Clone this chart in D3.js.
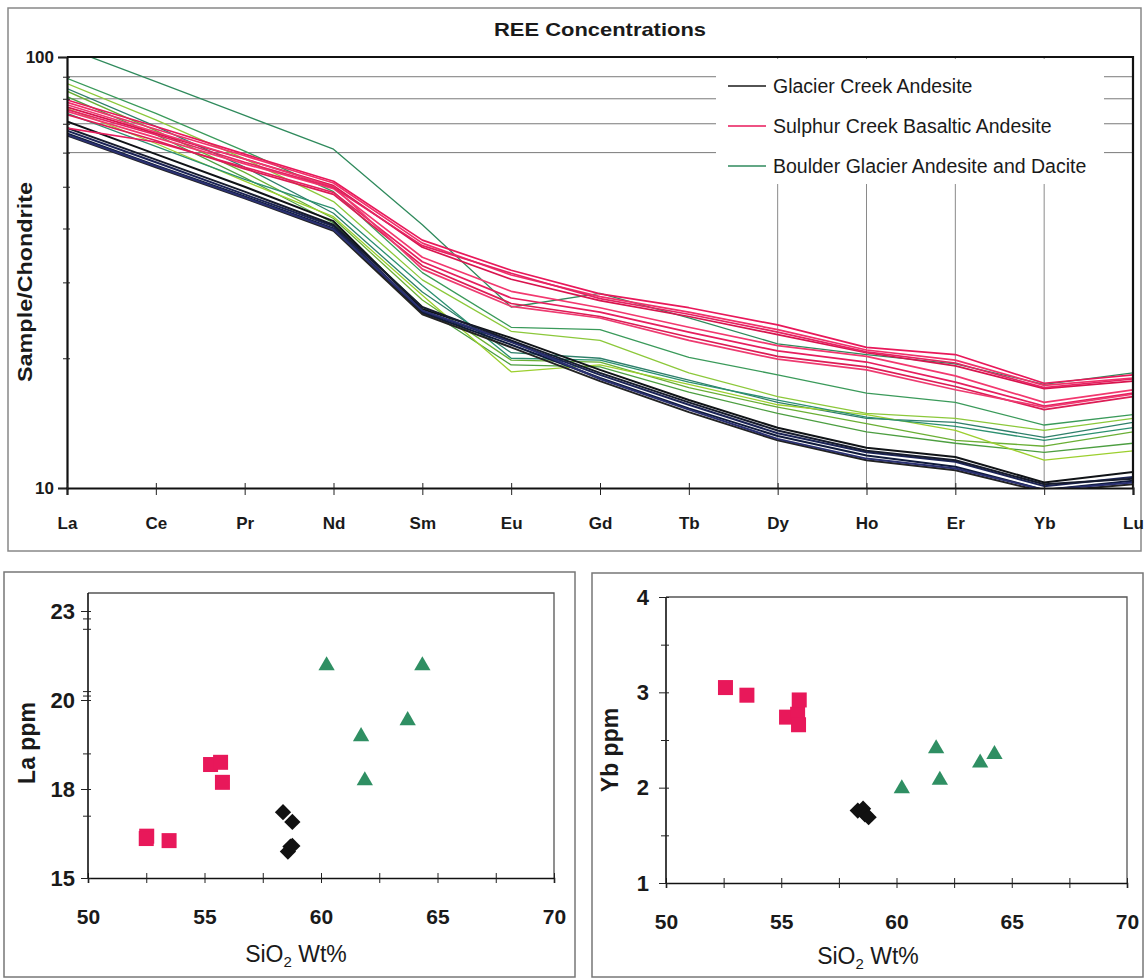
<!DOCTYPE html>
<html>
<head>
<meta charset="utf-8">
<script src="https://cdn.jsdelivr.net/npm/d3@7"></script>
<style>
  body { margin: 0; background: #fff; }
  svg text { font-family: Arial, "Liberation Sans", Helvetica, sans-serif; fill: #1a1a1a; }
</style>
</head>
<body>
<svg id="fig" width="1145" height="980"></svg>
<script>
// ---- REE spider diagram data (chondrite-normalised) ----
const elements = ["La","Ce","Pr","Nd","Sm","Eu","Gd","Tb","Dy","Ho","Er","Yb","Lu"];

const glacierCreek = [
  [70.9, 59.5, 50.0, 41.6, 26.0, 22.3, 18.8, 16.0, 13.8, 12.4, 11.8, 10.3, 10.9],
  [67.5, 57.0, 48.0, 40.5, 25.7, 21.8, 18.3, 15.6, 13.4, 12.1, 11.5, 10.1, 10.6],
  [66.5, 56.0, 47.5, 40.0, 25.5, 21.5, 18.0, 15.3, 13.2, 11.9, 11.2, 9.9, 10.4],
  [65.8, 55.5, 47.0, 39.5, 25.3, 21.2, 17.7, 15.0, 12.9, 11.6, 11.0, 9.8, 10.2],
  [66.0, 55.8, 47.2, 39.8, 25.8, 21.9, 17.9, 15.2, 13.0, 11.7, 11.1, 9.9, 10.3],
  [68.5, 57.8, 48.7, 40.8, 26.3, 22.0, 18.5, 15.8, 13.6, 12.2, 11.6, 10.2, 10.5]
];

const sulphurCreek = [
  [79.5, 69.0, 59.5, 51.5, 37.6, 32.0, 28.2, 26.2, 23.9, 21.2, 20.4, 17.5, 18.3],
  [78.5, 68.0, 59.0, 51.0, 37.0, 31.2, 27.8, 25.6, 23.3, 20.9, 19.8, 17.3, 18.0],
  [76.5, 66.5, 58.0, 50.3, 36.2, 30.5, 27.2, 25.0, 22.7, 20.6, 19.2, 17.0, 17.7],
  [74.8, 65.0, 56.5, 49.5, 34.3, 28.6, 26.2, 23.6, 21.4, 20.2, 18.2, 15.8, 16.9],
  [68.4, 63.5, 55.5, 48.5, 33.5, 27.6, 25.6, 23.0, 20.8, 19.6, 17.6, 15.5, 16.6],
  [73.5, 64.0, 55.0, 48.0, 32.8, 26.8, 25.0, 22.4, 20.2, 19.1, 17.2, 15.2, 16.3],
  [77.5, 67.0, 58.0, 50.0, 32.2, 26.4, 24.8, 22.0, 19.9, 18.8, 16.9, 15.4, 16.5],
  [75.5, 66.0, 57.0, 49.8, 36.5, 31.5, 27.5, 25.3, 23.0, 20.7, 19.5, 17.1, 17.9]
];

const boulderGlacier = [
  [104.8, 87.7, 73.2, 61.1, 40.8, 26.3, 28.3, 24.8, 21.6, 20.4, 19.4, 17.4, 18.5],
  [89.2, 74.0, 60.5, 48.7, 31.6, 23.6, 23.3, 20.1, 18.3, 16.6, 15.8, 14.0, 14.8],
  [86.8, 71.5, 58.0, 46.2, 30.4, 23.1, 22.0, 18.5, 16.3, 14.9, 14.5, 13.6, 14.5],
  [84.5, 69.0, 55.5, 43.4, 28.5, 20.6, 20.0, 17.8, 15.8, 14.5, 14.2, 13.1, 14.2],
  [83.3, 67.5, 54.0, 42.2, 27.3, 19.8, 19.6, 17.1, 15.4, 14.1, 12.9, 12.5, 13.5],
  [80.9, 66.0, 52.5, 41.2, 26.3, 19.3, 19.1, 16.7, 14.9, 13.5, 12.7, 12.1, 12.7],
  [76.0, 63.0, 51.5, 42.6, 28.0, 18.6, 19.3, 17.4, 15.6, 14.8, 13.6, 11.6, 12.2],
  [74.0, 62.0, 52.0, 44.5, 29.5, 20.0, 19.8, 17.6, 16.0, 14.6, 13.9, 12.9, 13.8]
];

const glacierColors = ["#101317", "#1b2356", "#0f1a3c", "#232323", "#2a3070", "#161b2e"];
const sulphurColors = ["#e8185a", "#f0306a", "#d8144e", "#f2386f", "#e61e5e", "#dc1c55", "#ee3a70", "#e42462"];
const boulderColors = ["#2f8a5c", "#3a9a5a", "#8cc83a", "#2e7f6a", "#6aaf34", "#4c9e40", "#9ccf2e", "#2c9070"];

const legendNames = ["Glacier Creek Andesite", "Sulphur Creek Basaltic Andesite", "Boulder Glacier Andesite and Dacite"];
const legendColors = ["#1a1a1a", "#e8185a", "#2f8a5c"];

const sampleTicks = [10, 20, 30, 40, 50, 60, 70, 80, 90, 100];
const gridValues = [60, 70, 80, 90];
const gridElements = ["Dy", "Ho", "Er", "Yb"];

// ---- La vs SiO2 ----
const laSulphurSiO2 = [52.52, 52.50, 53.48, 55.26, 55.69, 55.77];
const laSulphur     = [16.41, 16.33, 16.26, 18.55, 18.60, 18.15];
const laGlacierSiO2 = [58.37, 58.77, 58.69, 58.58, 58.77];
const laGlacier     = [17.22, 16.89, 16.06, 15.89, 16.08];
const laBoulderSiO2 = [60.24, 64.35, 63.72, 61.72, 61.88];
const laBoulder     = [21.16, 21.16, 19.54, 19.18, 18.19];
const laTicks = [15, 18, 20, 23];
const laMinorTicks = [17.1, 18.8, 20.15, 20.3, 22.4, 22.75];

// ---- Yb vs SiO2 ----
const ybSulphurSiO2 = [52.58, 53.51, 55.23, 55.71, 55.75, 55.78];
const ybSulphur     = [3.05, 2.97, 2.74, 2.77, 2.66, 2.92];
const ybGlacierSiO2 = [58.32, 58.55, 58.63, 58.79];
const ybGlacier     = [1.76, 1.78, 1.72, 1.69];
const ybBoulderSiO2 = [60.23, 61.72, 61.88, 63.63, 64.25];
const ybBoulder     = [1.99, 2.41, 2.08, 2.26, 2.35];
const ybTicks = [1, 2, 3, 4];
const ybMinorTicks = [1.5, 2.5, 3.5];

const silicaTicks = [50, 55, 60, 65, 70];
const silicaMinorTicks = [52.5, 57.5, 62.5, 67.5];

const pink = "#e8185a", green = "#2f8f63", black = "#111";

const svg = d3.select("#fig");

// ================= REE panel =================
svg.append("rect").attr("x", 8).attr("y", 8).attr("width", 1133).attr("height", 543)
  .attr("fill", "none").attr("stroke", "#888").attr("stroke-width", 1.5);

const P = { left: 67, right: 1133, top: 57, bottom: 488 };
const x = d3.scalePoint().domain(elements).range([P.left, P.right]);
const y = d3.scaleLog().domain([10, 100]).range([P.bottom, P.top]);

svg.append("text").attr("x", 600).attr("y", 36).attr("text-anchor", "middle")
  .attr("font-size", 19).attr("font-weight", "bold")
  .attr("textLength", 212).attr("lengthAdjust", "spacingAndGlyphs")
  .text("REE Concentrations");

// gridlines
svg.append("g").selectAll("line").data(gridValues).join("line")
  .attr("x1", P.left).attr("x2", P.right)
  .attr("y1", d => y(d)).attr("y2", d => y(d))
  .attr("stroke", "#7a7a7a").attr("stroke-width", 1);
svg.append("g").selectAll("line").data(gridElements).join("line")
  .attr("x1", d => x(d)).attr("x2", d => x(d))
  .attr("y1", P.top).attr("y2", P.bottom)
  .attr("stroke", "#8a8a8a").attr("stroke-width", 1);

// legend box (white, hides grid behind it)
const lg = svg.append("g");
lg.append("rect").attr("x", 716).attr("y", P.top + 2).attr("width", 388).attr("height", 125).attr("fill", "#fff");
legendNames.forEach((name, i) => {
  const ly = 86 + i * 40;
  lg.append("line").attr("x1", 728).attr("x2", 766).attr("y1", ly).attr("y2", ly)
    .attr("stroke", legendColors[i]).attr("stroke-width", 1.6);
  lg.append("text").attr("x", 773).attr("y", ly + 7).attr("font-size", 19.5).text(name);
});

// clip for series
svg.append("clipPath").attr("id", "reeClip").append("rect")
  .attr("x", P.left).attr("y", P.top).attr("width", P.right - P.left).attr("height", P.bottom - P.top);

const line = d3.line().x((d, i) => x(elements[i])).y(d => y(d));
const series = svg.append("g").attr("clip-path", "url(#reeClip)").attr("fill", "none")
  .attr("stroke-linejoin", "round");

series.append("g").selectAll("path").data(boulderGlacier).join("path")
  .attr("d", line).attr("stroke", (d, i) => boulderColors[i]).attr("stroke-width", 1.3);
series.append("g").selectAll("path").data(glacierCreek).join("path")
  .attr("d", line).attr("stroke", (d, i) => glacierColors[i]).attr("stroke-width", 2);
series.append("g").selectAll("path").data(sulphurCreek).join("path")
  .attr("d", line).attr("stroke", (d, i) => sulphurColors[i]).attr("stroke-width", 1.7);

// frame top/right
svg.append("path").attr("d", `M${P.left},${P.top}H${P.right}V${P.bottom}`)
  .attr("fill", "none").attr("stroke", "#111").attr("stroke-width", 2.2);

// y axis
const yAxisG = svg.append("g").attr("transform", `translate(${P.left},0)`)
  .call(d3.axisLeft(y).tickValues(sampleTicks).tickSize(9).tickPadding(4)
    .tickFormat(d => (d === 10 || d === 100) ? d : ""));
yAxisG.select(".domain").attr("stroke", "#111").attr("stroke-width", 2.2);
yAxisG.selectAll(".tick line").attr("stroke", "#222")
  .attr("x1", d => (d === 10 || d === 100) ? 0 : 3)
  .attr("x2", d => (d === 10 || d === 100) ? -9 : -4);
yAxisG.selectAll(".tick text").attr("font-size", 17).attr("font-weight", "bold").attr("fill", "#1a1a1a");

// x axis
const xAxisG = svg.append("g").attr("transform", `translate(0,${P.bottom})`)
  .call(d3.axisBottom(x).tickSize(7).tickPadding(22));
xAxisG.select(".domain").attr("stroke", "#111").attr("stroke-width", 2.2);
xAxisG.selectAll(".tick line").attr("y1", -5).attr("stroke", "#222");
xAxisG.selectAll(".tick text").attr("font-size", 17).attr("font-weight", "bold").attr("fill", "#1a1a1a");

svg.append("text").attr("transform", "translate(32,282) rotate(-90)")
  .attr("text-anchor", "middle").attr("font-size", 21).attr("font-weight", "bold")
  .attr("textLength", 200).attr("lengthAdjust", "spacingAndGlyphs")
  .text("Sample/Chondrite");

// ================= scatter panels =================
function scatterPanel(cfg) {
  const g = svg.append("g");
  g.append("rect").attr("x", cfg.frame[0]).attr("y", cfg.frame[1])
    .attr("width", cfg.frame[2]).attr("height", cfg.frame[3])
    .attr("fill", "none").attr("stroke", "#777").attr("stroke-width", 1.5);

  const sx = d3.scaleLinear().domain([50, 70]).range([cfg.left, cfg.right]);
  const sy = d3.scaleLinear().domain(cfg.yDomain).range(cfg.yRange);

  // plot frame
  g.append("path").attr("d", `M${cfg.left},${cfg.top}H${cfg.right}V${cfg.yRange[0]}`)
    .attr("fill", "none").attr("stroke", "#555").attr("stroke-width", 1.3);

  // axes
  const ax = g.append("g").attr("transform", `translate(0,${cfg.yRange[0]})`)
    .call(d3.axisBottom(sx).tickValues(silicaTicks).tickSize(5).tickPadding(26).tickFormat(d3.format("d")));
  ax.append("g").call(d3.axisBottom(sx).tickValues(silicaMinorTicks).tickSize(5).tickFormat(""))
    .select(".domain").remove();
  ax.selectAll(".tick line").attr("y1", -5).attr("stroke", "#222");
  ax.select(".domain").attr("stroke", "#111").attr("stroke-width", 1.6);
  ax.selectAll(".tick text").attr("font-size", 21).attr("font-weight", "bold").attr("fill", "#1a1a1a");

  const ay = g.append("g").attr("transform", `translate(${cfg.left},0)`)
    .call(d3.axisLeft(sy).tickValues(cfg.yTicks).tickSize(7).tickPadding(cfg.yPad).tickFormat(d3.format("d")));
  ay.append("g").call(d3.axisLeft(sy).tickValues(cfg.yMinor).tickSize(5).tickFormat(""))
    .select(".domain").remove();
  ay.selectAll(".tick line").attr("x1", 3).attr("stroke", "#222");
  ay.select(".domain").attr("stroke", "#111").attr("stroke-width", 1.6)
    .attr("d", `M0,${cfg.top}V${cfg.yRange[0]}`);
  ay.selectAll(".tick text").attr("font-size", 22).attr("font-weight", "bold").attr("fill", "#1a1a1a");

  // titles
  g.append("text").attr("x", cfg.xTitle[0]).attr("y", cfg.xTitle[1]).attr("text-anchor", "middle")
    .attr("font-size", 23)
    .call(t => {
      t.append("tspan").text("SiO");
      t.append("tspan").attr("font-size", 15).attr("dy", 5).text("2");
      t.append("tspan").attr("dy", -5).text(" Wt%");
    });
  g.append("text").attr("transform", `translate(${cfg.yTitle[0]},${cfg.yTitle[1]}) rotate(-90)`)
    .attr("text-anchor", "middle").attr("font-size", 23).attr("font-weight", "bold").text(cfg.yLabel);

  // markers
  const sq = 15;
  g.append("g").selectAll("rect").data(d3.zip(cfg.pinkX, cfg.pinkY)).join("rect")
    .attr("x", d => sx(d[0]) - sq / 2).attr("y", d => sy(d[1]) - sq / 2)
    .attr("width", sq).attr("height", sq).attr("fill", pink);
  const dm = 11.5;
  g.append("g").selectAll("rect").data(d3.zip(cfg.blackX, cfg.blackY)).join("rect")
    .attr("x", -dm / 2).attr("y", -dm / 2).attr("width", dm).attr("height", dm)
    .attr("fill", black)
    .attr("transform", d => `translate(${sx(d[0])},${sy(d[1])}) rotate(45)`);
  const tri = d3.symbol().type(d3.symbolTriangle).size(115);
  g.append("g").selectAll("path").data(d3.zip(cfg.greenX, cfg.greenY)).join("path")
    .attr("d", tri).attr("fill", green)
    .attr("transform", d => `translate(${sx(d[0])},${sy(d[1])})`);
}

scatterPanel({
  frame: [4, 572, 571, 405],
  left: 88, right: 554, top: 593,
  yDomain: laTicks, yRange: [878, 789, 700, 611],
  yTicks: laTicks, yMinor: laMinorTicks, yPad: 6,
  xTitle: [296, 962], yTitle: [35, 743], yLabel: "La ppm",
  pinkX: laSulphurSiO2, pinkY: laSulphur,
  blackX: laGlacierSiO2, blackY: laGlacier,
  greenX: laBoulderSiO2, greenY: laBoulder
});

scatterPanel({
  frame: [592, 573, 551, 404],
  left: 666, right: 1127, top: 597,
  yDomain: [1, 4], yRange: [883, 597],
  yTicks: ybTicks, yMinor: ybMinorTicks, yPad: 10,
  xTitle: [868, 964], yTitle: [618, 750], yLabel: "Yb ppm",
  pinkX: ybSulphurSiO2, pinkY: ybSulphur,
  blackX: ybGlacierSiO2, blackY: ybGlacier,
  greenX: ybBoulderSiO2, greenY: ybBoulder
});
</script>
</body>
</html>
